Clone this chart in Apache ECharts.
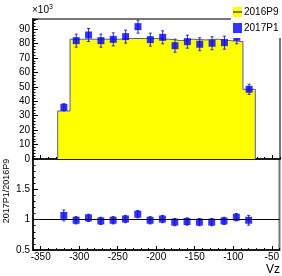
<!DOCTYPE html>
<html>
<head>
<meta charset="utf-8">
<script src="https://cdn.jsdelivr.net/npm/echarts@6/dist/echarts.min.js"></script>
<style>
  html, body { margin: 0; padding: 0; background: #fff; }
  #chart { width: 282px; height: 276px; }
</style>
</head>
<body>
<div id="chart"></div>
<script>
// bin edges of the Vz histogram (16 bins)
const binEdges = [-328, -312, -296, -280, -264, -248, -232, -216, -200, -184, -168, -152, -136, -120, -104, -88, -72]
// 2016P9 histogram contents (x10^3)
const hist2016 = [33.3, 83.0, 83.0, 83.0, 83.0, 83.5, 83.5, 83.5, 83.0, 82.0, 83.0, 82.5, 83.0, 82.0, 81.3, 48.3]
// 2017P1 points (x10^3) and errors
const points2017 = [35.8, 82.0, 85.9, 82.0, 82.9, 84.8, 91.7, 82.7, 84.3, 78.5, 81.3, 79.5, 80.2, 80.6, 84.3, 48.3]
const err2017 = [2.5, 4.5, 4.5, 4.5, 4.5, 4.5, 4.5, 4.5, 4.5, 4.5, 4.5, 4.5, 4.5, 4.5, 4.5, 3.5]
// ratio 2017P1/2016P9 and errors
const ratio = [1.07, 0.99, 1.03, 0.98, 0.99, 1.01, 1.09, 0.99, 1.01, 0.96, 0.97, 0.96, 0.96, 0.98, 1.04, 0.99]
const ratioErr = [0.09, 0.06, 0.06, 0.06, 0.06, 0.06, 0.06, 0.06, 0.06, 0.06, 0.06, 0.06, 0.06, 0.06, 0.06, 0.08]
// axis tick labels
const xMajorTicks = [-350, -300, -250, -200, -150, -100, -50]

const centers = hist2016.map((v, i) => (binEdges[i] + binEdges[i + 1]) / 2)

// step outline of the histogram
const histLine = [[binEdges[0], 0]]
hist2016.forEach((v, i) => {
  histLine.push([binEdges[i], v])
  histLine.push([binEdges[i + 1], v])
})
histLine.push([binEdges[binEdges.length - 1], 0])

const font = 'Liberation Sans, Arial, sans-serif'
const errColor = '#3030b0'

function errorBars(xAxisIndex, yAxisIndex, vals, errs) {
  return {
    type: 'custom',
    xAxisIndex: xAxisIndex,
    yAxisIndex: yAxisIndex,
    silent: true,
    z: 3,
    data: vals.map((v, i) => [centers[i], v - errs[i], v + errs[i]]),
    renderItem: function (params, api) {
      const lo = api.coord([api.value(0), api.value(1)])
      const hi = api.coord([api.value(0), api.value(2)])
      const st = { stroke: errColor, lineWidth: 1 }
      return {
        type: 'group',
        children: [
          { type: 'line', shape: { x1: lo[0], y1: lo[1], x2: hi[0], y2: hi[1] }, style: st },
          { type: 'line', shape: { x1: lo[0] - 1.5, y1: lo[1], x2: lo[0] + 1.5, y2: lo[1] }, style: st },
          { type: 'line', shape: { x1: hi[0] - 1.5, y1: hi[1], x2: hi[0] + 1.5, y2: hi[1] }, style: st }
        ]
      }
    }
  }
}

function xAxes(gridIndex, showLabels) {
  return [
    {
      type: 'value', gridIndex: gridIndex, min: -360, max: -40, interval: 10,
      position: 'bottom',
      axisLine: { onZero: false, lineStyle: { color: '#000', width: 1.5 } },
      axisTick: { inside: true, length: 2, lineStyle: { color: '#000' } },
      splitLine: { show: false },
      axisLabel: {
        show: showLabels, customValues: xMajorTicks, margin: 2,
        color: '#000', fontSize: 10, fontFamily: font
      }
    },
    {
      type: 'value', gridIndex: gridIndex, min: -360, max: -40,
      position: 'bottom',
      axisLine: { show: false, onZero: false },
      axisTick: { inside: true, length: 4, customValues: xMajorTicks, lineStyle: { color: '#000' } },
      splitLine: { show: false },
      axisLabel: { show: false }
    }
  ]
}

const chart = echarts.init(document.getElementById('chart'))

chart.setOption({
  animation: false,
  backgroundColor: '#fff',
  grid: [
    { left: 33, top: 19, width: 247, height: 140, show: true, borderColor: '#777', borderWidth: 2, backgroundColor: 'transparent' },
    { left: 33, top: 159, width: 247, height: 91, show: true, borderColor: '#777', borderWidth: 2, backgroundColor: 'transparent' }
  ],
  xAxis: xAxes(0, false).concat(xAxes(1, true)),
  yAxis: [
    {
      type: 'value', gridIndex: 0, min: 0, max: 97, interval: 10,
      name: '{a|×10}{b|3}', nameLocation: 'end', nameGap: 2,
      nameTextStyle: {
        align: 'left', padding: [0, 0, 0, -1],
        rich: {
          a: { fontSize: 10, fontFamily: font, color: '#000' },
          b: { fontSize: 7, fontFamily: font, color: '#000', verticalAlign: 'top', padding: [0, 0, 6, 0] }
        }
      },
      axisLine: { show: true, lineStyle: { color: '#000', width: 1.5 } },
      axisTick: { inside: true, length: 5, lineStyle: { color: '#000' } },
      minorTick: { show: true, splitNumber: 5, length: 2.5, lineStyle: { color: '#000' } },
      splitLine: { show: false },
      axisLabel: { showMaxLabel: false, margin: 3, color: '#000', fontSize: 10, fontFamily: font }
    },
    {
      type: 'value', gridIndex: 1, min: 0.5, max: 2, interval: 0.5,
      axisLine: { show: true, lineStyle: { color: '#000', width: 1.5 } },
      axisTick: { inside: true, length: 5, lineStyle: { color: '#000' } },
      minorTick: { show: true, splitNumber: 5, length: 2.5, lineStyle: { color: '#000' } },
      splitLine: { show: false },
      axisLabel: { showMaxLabel: false, margin: 3, color: '#000', fontSize: 10, fontFamily: font }
    }
  ],
  legend: {
    orient: 'vertical', left: 231, top: 0, z: 10,
    backgroundColor: '#fff', padding: [7, 6, 5, 2],
    itemWidth: 9, itemHeight: 10, itemGap: 6,
    textStyle: { fontSize: 10, fontFamily: font, color: '#000', padding: [0, 0, 0, -3] },
    data: [
      {
        name: '2016P9',
        icon: 'image://data:image/svg+xml;utf8,' + encodeURIComponent(
          '<svg xmlns="http://www.w3.org/2000/svg" width="9" height="10"><rect width="9" height="10" fill="#ffff00"/><line x1="0" y1="5" x2="9" y2="5" stroke="#000" stroke-width="1"/></svg>')
      },
      { name: '2017P1', icon: 'rect', itemStyle: { color: '#0000ff' } }
    ]
  },
  series: [
    {
      name: '2016P9', type: 'line', xAxisIndex: 0, yAxisIndex: 0,
      data: histLine, showSymbol: false, symbol: 'none',
      lineStyle: { color: '#5a5a9a', width: 1 },
      itemStyle: { color: '#ffff00' },
      areaStyle: { color: '#ffff00', opacity: 1 },
      z: 1
    },
    errorBars(0, 0, points2017, err2017),
    {
      name: '2017P1', type: 'scatter', xAxisIndex: 0, yAxisIndex: 0,
      data: points2017.map((v, i) => [centers[i], v]),
      symbol: 'rect', symbolSize: 7,
      itemStyle: { color: '#0000ff' },
      z: 4
    },
    {
      name: 'ratio', type: 'scatter', xAxisIndex: 2, yAxisIndex: 1,
      data: ratio.map((v, i) => [centers[i], v]),
      symbol: 'rect', symbolSize: 7,
      itemStyle: { color: '#0000ff' },
      z: 4,
      markLine: {
        silent: true, symbol: 'none', label: { show: false },
        lineStyle: { color: '#000', type: 'solid', width: 1.2 },
        data: [{ yAxis: 1 }]
      }
    },
    errorBars(2, 1, ratio, ratioErr)
  ],
  graphic: [
    {
      type: 'text', x: 7, y: 191, rotation: Math.PI / 2,
      style: { text: '2017P1/2016P9', fontSize: 9, fontFamily: font, fill: '#000', align: 'center', verticalAlign: 'middle' }
    },
    {
      type: 'text', x: 280, y: 264,
      style: { text: 'Vz', fontSize: 12, fontFamily: font, fill: '#000', align: 'right', verticalAlign: 'top' }
    }
  ]
})
</script>
</body>
</html>
